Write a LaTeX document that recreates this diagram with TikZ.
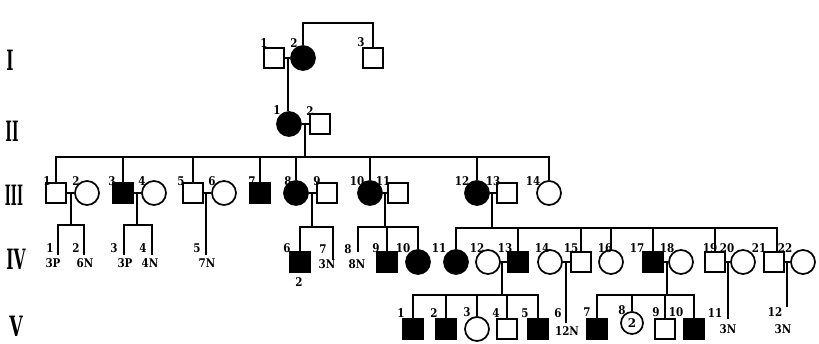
\documentclass[tikz,border=0pt]{standalone}
\usepackage{fontspec}
\setmainfont{DejaVu Serif}
\usetikzlibrary{calc}
\newcommand\lbtext[1]{\scalebox{0.86}[1]{#1}}
\begin{document}
\begin{tikzpicture}[x=1pt,y=-1pt,line width=1.7pt,
  sq/.style={draw,rectangle,minimum size=20pt,inner sep=0pt},
  ci/.style={draw,circle,minimum size=24pt,inner sep=0pt},
  aff/.style={fill=black},
  lab/.style={font=\bfseries\fontsize{12}{12}\selectfont,inner sep=0pt},
  gen/.style={font=\bfseries\fontsize{28}{28}\selectfont,inner sep=0pt}]
\useasboundingbox (0,0) rectangle (819,343);
% generation numerals
\node[gen] (gI) at (10,60) {\scalebox{0.55}[1]{I}};
\node[gen] (gII) at (12,131) {\scalebox{0.5}[1]{II}};
\node[gen] (gIII) at (14,195) {\scalebox{0.46}[1]{III}};
\node[gen] (gIV) at (16,259) {\scalebox{0.55}[1]{IV}};
\node[gen] (gV) at (16,326) {\scalebox{0.62}[1]{V}};
% generation I
\node[sq] (I1) at (274,58) {};
\node[ci,aff] (I2) at (303,58) {};
\node[sq] (I3) at (373,58) {};
\coordinate (sI) at (0,23);
\draw (I2.north) -- (I2.north |- sI) -- (I3.north |- sI) -- (I3.north);
\draw (I1.east) -- (I2.west);
% generation II
\node[ci,aff] (II1) at (289,124) {};
\node[sq] (II2) at (320,124) {};
\coordinate (mI) at (288,58);
\draw (mI) -- (mI |- II1.north);
\draw (II1.east) -- (II2.west);
% generation III
\node[sq] (III1) at (56,193) {};
\node[ci] (III2) at (87,193) {};
\node[sq,aff] (III3) at (123,193) {};
\node[ci] (III4) at (154,193) {};
\node[sq] (III5) at (193,193) {};
\node[ci] (III6) at (224,193) {};
\node[sq,aff] (III7) at (260,193) {};
\node[ci,aff] (III8) at (296,193) {};
\node[sq] (III9) at (327,193) {};
\node[ci,aff] (III10) at (370,193) {};
\node[sq] (III11) at (398,193) {};
\node[ci,aff] (III12) at (477,193) {};
\node[sq] (III13) at (507,193) {};
\node[ci] (III14) at (549,193) {};
\coordinate (mII) at (305,124);
\coordinate (sIII) at (0,157);
\draw (mII) -- (mII |- sIII);
\draw (III1.north) -- (III1.north |- sIII) -- (III14.north |- sIII) -- (III14.north);
\foreach \n in {III3,III5,III7,III8,III10,III12} \draw (\n.north) -- (\n.north |- sIII);
\foreach \a/\b in {III1/III2,III3/III4,III5/III6,III8/III9,III10/III11,III12/III13} \draw (\a.east) -- (\b.west);
% descents from III
\coordinate (m12) at (71,193); \coordinate (k12) at (71,225);
\coordinate (e1) at (58,255); \coordinate (e2) at (84,255);
\draw (m12) -- (k12);
\draw (e1) -- (e1 |- k12) -- (e2 |- k12) -- (e2);
\coordinate (m34) at (137,193); \coordinate (k34) at (137,225);
\coordinate (e3) at (124,255); \coordinate (e4) at (152,255);
\draw (m34) -- (k34);
\draw (e3) -- (e3 |- k34) -- (e4 |- k34) -- (e4);
\coordinate (m56) at (206,193); \coordinate (e5) at (206,255);
\draw (m56) -- (e5);
% generation IV
\node[sq,aff] (IV6) at (300,262) {};
\node[sq,aff] (IV9) at (387,262) {};
\node[ci,aff] (IV10) at (418,262) {};
\node[ci,aff] (IV11) at (456,262) {};
\node[ci] (IV12) at (488,262) {};
\node[sq,aff] (IV13) at (518,262) {};
\node[ci] (IV14) at (550,262) {};
\node[sq] (IV15) at (581,262) {};
\node[ci] (IV16) at (611,262) {};
\node[sq,aff] (IV17) at (653,262) {};
\node[ci] (IV18) at (681,262) {};
\node[sq] (IV19) at (715,262) {};
\node[ci] (IV20) at (743,262) {};
\node[sq] (IV21) at (774,262) {};
\node[ci] (IV22) at (803,262) {};
\coordinate (m89) at (312,193); \coordinate (k89) at (312,227);
\coordinate (e7) at (333,260);
\draw (m89) -- (k89);
\draw (IV6.north) -- (IV6.north |- k89) -- (e7 |- k89) -- (e7);
\coordinate (m1011) at (385,193); \coordinate (k1011) at (385,227);
\coordinate (e8) at (358,252);
\draw (m1011) -- (k1011);
\draw (e8) -- (e8 |- k1011) -- (IV10.north |- k1011) -- (IV10.north);
\draw (IV9.north) -- (IV9.north |- k1011);
\coordinate (m1213) at (492,193); \coordinate (k1213) at (492,228);
\coordinate (c21) at (777,262);
\draw (m1213) -- (k1213);
\draw (IV11.north) -- (IV11.north |- k1213) -- (c21 |- k1213) -- (c21 |- IV21.north);
\foreach \n in {IV13,IV15,IV16,IV17,IV19} \draw (\n.north) -- (\n.north |- k1213);
\foreach \a/\b in {IV12/IV13,IV14/IV15,IV17/IV18,IV19/IV20,IV21/IV22} \draw (\a.east) -- (\b.west);
% generation V
\node[sq,aff] (V1) at (413,329) {};
\node[sq,aff] (V2) at (446,329) {};
\node[ci] (V3) at (477,329) {};
\node[sq] (V4) at (507,329) {};
\node[sq,aff] (V5) at (538,329) {};
\node[sq,aff] (V7) at (597,329) {};
\node[ci,lab,minimum size=22pt] (V8) at (632,323) {2};
\node[sq] (V9) at (665,329) {};
\node[sq,aff] (V10) at (694,329) {};
\coordinate (mIV13) at (502,262); \coordinate (kV1) at (502,295);
\draw (mIV13) -- (kV1);
\draw (V1.north) -- (V1.north |- kV1) -- (V5.north |- kV1) -- (V5.north);
\foreach \n in {V2,V3,V4} \draw (\n.north) -- (\n.north |- kV1);
\coordinate (mIV15) at (566,262); \coordinate (e6) at (566,323);
\draw (mIV15) -- (e6);
\coordinate (mIV18) at (667,262); \coordinate (kV2) at (667,295);
\draw (mIV18) -- (kV2);
\draw (V7.north) -- (V7.north |- kV2) -- (V10.north |- kV2) -- (V10.north);
\foreach \n in {V8,V9} \draw (\n.north) -- (\n.north |- kV2);
\coordinate (mIV20) at (728,262); \coordinate (e11) at (728,319);
\draw (mIV20) -- (e11);
\coordinate (mIV22) at (787,262); \coordinate (e12) at (787,307);
\draw (mIV22) -- (e12);
% labels
\foreach \x/\y/\t [count=\i] in {
 264/43/1, 294/43/2, 361/42/3,
 277/110/1, 310/111/2,
 47/181/1, 76/181/2, 112/181/3, 142/181/4, 181/181/5, 212/181/6, 252/181/7,
 288/181/8, 317/181/9, 357/181/10, 383/181/11, 462/181/12, 493/181/13, 533/181/14,
 50/248/1, 76/248/2, 114/248/3, 143/248/4, 197/248/5, 287/248/6, 323/249/7,
 348/249/8, 376/248/9, 403/248/10, 439/248/11, 477/248/12, 505/248/13, 542/248/14,
 571/248/15, 605/248/16, 637/248/17, 667/248/18, 710/248/19, 727/248/20,
 759/248/21, 785/248/22,
 53/263/3P, 85/263/6N, 125/263/3P, 150/263/4N, 207/263/7N, 327/264/3N, 357/264/8N,
 299/282/2,
 401/313/1, 434/313/2, 467/312/3, 496/313/4, 525/313/5, 558/313/6, 587/312/7,
 622/310/8, 656/312/9, 676/312/10, 715/313/11, 775/312/12,
 567/331/12N, 728/329/3N, 783/329/3N}
 \node[lab] (lb\i) at (\x,\y) {\lbtext{\t}};
\end{tikzpicture}
\end{document}
